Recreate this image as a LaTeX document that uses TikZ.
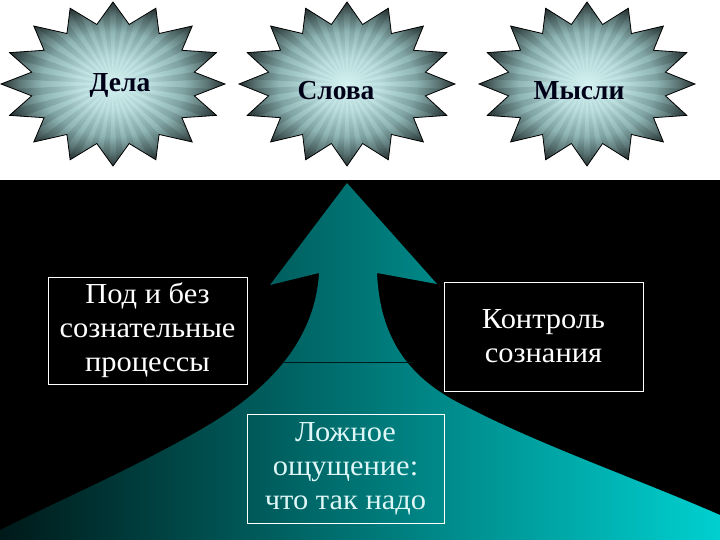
\documentclass[tikz,border=0pt]{standalone}
\usepackage{fontspec}
\setmainfont{Liberation Serif}
\newfontfamily\boxfont[FakeStretch=1.05]{Liberation Serif}
\usetikzlibrary{fadings}
\definecolor{tealdark}{RGB}{0,25,25}
\definecolor{tealmid}{RGB}{0,140,140}
\definecolor{teallight}{RGB}{0,208,208}
\definecolor{falsetext}{RGB}{222,246,246}
\definecolor{raydark}{RGB}{20,35,35}
\pgfdeclareradialshading{starshade}{\pgfpoint{0bp}{0bp}}{%
  rgb(0bp)=(0.84,0.95,0.95);
  rgb(8bp)=(0.74,0.88,0.88);
  rgb(16bp)=(0.56,0.71,0.71);
  rgb(21bp)=(0.36,0.46,0.46);
  rgb(25bp)=(0.16,0.20,0.20);
  rgb(50bp)=(0.10,0.13,0.13)}
\tikzfading[name=rayfade, inner color=transparent!100, outer color=transparent!72]
\tikzset{
  starbody/.style={shading=starshade},
  starrim/.style={draw=black, line width=0.8pt},
  starray/.style={fill=raydark, path fading=rayfade},
  starlabel/.style={font=\fontsize{27.5}{30}\selectfont\bfseries, text=black!90!blue, inner sep=0pt},
  infobox/.style={draw=white, line width=1pt, align=center, text=white,
    font=\boxfont\fontsize{29}{34}\selectfont, inner sep=0pt},
}
\def\mystarpath{plot[samples at={0,...,31}, variable=\k]
      ({\rx*(1-0.26*mod(\k,2))*cos(90+11.25*\k)}, {82*(1-0.26*mod(\k,2))*sin(90+11.25*\k)}) -- cycle}
\begin{document}
\begin{tikzpicture}[x=1pt,y=-1pt]
\useasboundingbox (0,0) rectangle (720,540);
\fill[white] (0,0) rectangle (720,180);
\fill[black] (0,180) rectangle (720,540);
% stars
\foreach \cx/\cy/\rx in {113/84/112, 347/84/108, 587/84/108}{
  \begin{scope}[shift={(\cx,\cy)}]
    \path[starbody] \mystarpath;
    \begin{scope}
      \clip \mystarpath;
      \path[starray] foreach \a in {2.8,14.05,...,360} { (0,0) -- (\a:140) -- ({\a+5.6}:140) -- cycle };
    \end{scope}
    \path[starrim] \mystarpath;
  \end{scope}
}
\node[starlabel] (dela) at (120,85) {Дела};
\node[starlabel] (slova) at (336,91) {Слова};
\node[starlabel] (mysli) at (579,91) {Мысли};
% big arrow
\path[left color=tealdark, middle color=tealmid, right color=teallight]
  (347,183) -- (437,284) -- (377,273)
  .. controls (380,340) and (410,380) .. (467,407)
  .. controls (540,445) and (640,480) .. (720,515)
  -- (720,540) -- (0,540) -- (0,530)
  .. controls (60,500) and (130,470) .. (200,430)
  .. controls (270,390) and (315,340) .. (319,273)
  -- (270,285) -- cycle;
\coordinate (lineL) at (284,362);
\coordinate (lineR) at (413,362);
\draw[black!80!teal, line width=0.9pt] (lineL) -- (lineR);
% boxes
\node[infobox, fill=black, minimum width=199pt, minimum height=107pt] (sub) at (147.5,330.5)
  {Под и без\\сознательные\\процессы};
\node[infobox, fill=black, minimum width=199pt, minimum height=109pt] (ctrl) at (543.5,336.5)
  {Контроль\\сознания};
\node[infobox, text=falsetext, minimum width=197pt, minimum height=109pt] (false) at (345.5,468.5)
  {Ложное\\ощущение:\\что так надо};
\end{tikzpicture}
\end{document}
